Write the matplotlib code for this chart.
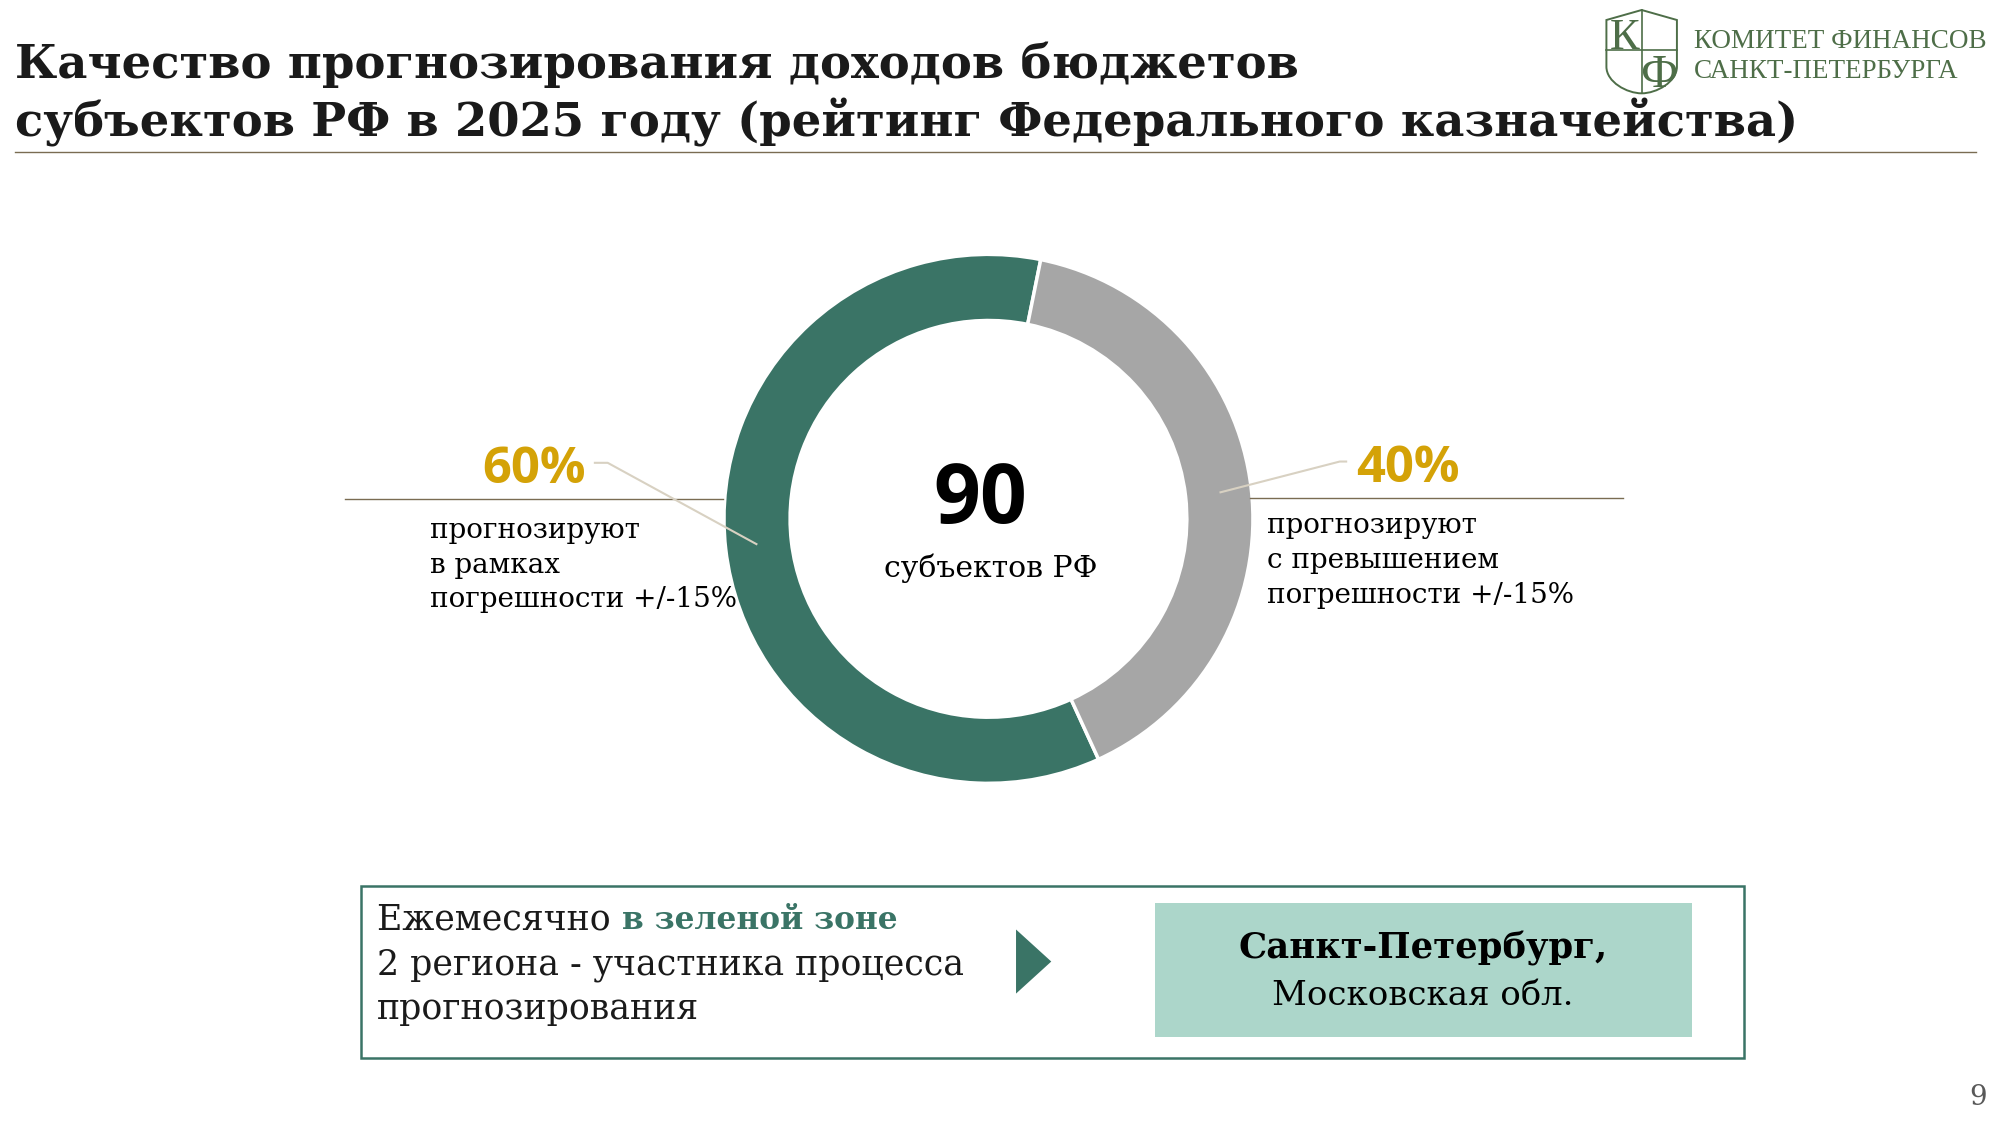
import matplotlib.pyplot as plt
from matplotlib.patches import Rectangle, Polygon, PathPatch
from matplotlib.path import Path

# data
shares = [60, 40]
share_labels = ["60%", "40%"]
share_texts = ["прогнозируют\nв рамках\nпогрешности +/-15%",
               "прогнозируют\nс превышением\nпогрешности +/-15%"]
total_regions = 90
total_label = "субъектов РФ"
title = "Качество прогнозирования доходов бюджетов\nсубъектов РФ в 2025 году (рейтинг Федерального казначейства)"
logo_lines = ["КОМИТЕТ ФИНАНСОВ", "САНКТ-ПЕТЕРБУРГА"]
box_lead = "Ежемесячно "
box_green = "в зеленой зоне"
box_rest = "2 региона - участника процесса\nпрогнозирования"
leaders = ["Санкт-Петербург,", "Московская обл."]
page_no = "9"

GREEN = "#3a7466"
GRAY = "#a6a6a6"
GOLD = "#d4a207"
TEAL = "#acd6ca"
LOGO = "#4e6e48"
SERIF = "DejaVu Serif"
SANS = "Open Sans"

W, H = 1560, 877.5
fig = plt.figure(figsize=(20, 11.25), dpi=100)
fig.patch.set_facecolor("white")

# donut
cx, cy, R = 771, 404.7, 206.3
pax = fig.add_axes([(cx - R) / W, 1 - (cy + R) / H, 2 * R / W, 2 * R / H])
pax.pie(shares, colors=[GREEN, GRAY], startangle=-65.4, counterclock=False,
        radius=1, wedgeprops=dict(width=0.25, edgecolor="white", linewidth=2.5))
pax.set_xlim(-1, 1)
pax.set_ylim(-1, 1)
pax.set_aspect("equal")
pax.axis("off")

# overlay in pixel-like coords
ax = fig.add_axes([0, 0, 1, 1])
ax.set_xlim(0, W)
ax.set_ylim(H, 0)
ax.axis("off")

# title + rule
for i, line in enumerate(title.split("\n")):
    ax.text(12, 61 + i * 45.5, line, fontsize=33.5, fontweight="bold", family=SERIF,
            color="#1a1a1a", va="baseline", ha="left")
ax.plot([12, 1541], [118.5, 118.5], color="#7a6c52", lw=1)

# logo
verts = [(1253, 15.6), (1280.5, 7.8), (1308, 15.6), (1308, 52),
         (1308, 64), (1292, 72.8), (1280.5, 72.8),
         (1269, 72.8), (1253, 64), (1253, 52), (1253, 15.6)]
codes = [Path.MOVETO, Path.LINETO, Path.LINETO, Path.LINETO,
         Path.CURVE4, Path.CURVE4, Path.CURVE4,
         Path.CURVE4, Path.CURVE4, Path.CURVE4, Path.CLOSEPOLY]
ax.add_patch(PathPatch(Path(verts, codes), fill=False, edgecolor=LOGO, lw=1.4))
ax.plot([1280.5, 1280.5], [7.8, 72.8], color=LOGO, lw=1.2)
ax.plot([1253, 1308], [39, 39], color=LOGO, lw=1.2)
ax.text(1267, 38, "К", fontsize=32, family="Liberation Serif", color=LOGO,
        ha="center", va="baseline")
ax.text(1294, 68, "Ф", fontsize=34, family="Liberation Serif", color=LOGO,
        ha="center", va="baseline")
ax.text(1321, 37.6, logo_lines[0], fontsize=19.5, family="Liberation Serif",
        color=LOGO, ha="left", va="baseline")
ax.text(1321, 61, logo_lines[1], fontsize=19.5, family="Liberation Serif",
        color=LOGO, ha="left", va="baseline")

# center label
ax.text(764.5, 408, str(total_regions), fontsize=59, fontweight="bold", family=SANS,
        color="black", ha="center", va="baseline")
ax.text(773, 450, total_label, fontsize=21.5, family=SERIF, color="black",
        ha="center", va="baseline")

# left annotation
ax.plot([269, 564], [389.5, 389.5], color="#7a6c52", lw=1)
ax.plot([464, 474, 590], [361, 361, 424.4], color="#d8d1c2", lw=1.5)
ax.text(416.5, 377, share_labels[0], fontsize=36.5, fontweight="bold", family=SANS,
        color=GOLD, ha="center", va="baseline")
for i, line in enumerate(share_texts[0].split("\n")):
    ax.text(335.5, 420 + i * 26.8, line, fontsize=20, family=SERIF, color="black",
            ha="left", va="baseline")

# right annotation
ax.plot([975, 1266], [388.5, 388.5], color="#7a6c52", lw=1)
ax.plot([952, 1045, 1050], [384, 360, 360], color="#d8d1c2", lw=1.5)
ax.text(1098, 375.7, share_labels[1], fontsize=36.5, fontweight="bold", family=SANS,
        color=GOLD, ha="center", va="baseline")
for i, line in enumerate(share_texts[1].split("\n")):
    ax.text(988, 416 + i * 27.2, line, fontsize=20, family=SERIF, color="black",
            ha="left", va="baseline")

# bottom box
ax.add_patch(Rectangle((281.5, 691), 1360 - 281.5, 825 - 691, fill=False,
                       edgecolor=GREEN, lw=1.8))
ax.add_patch(Rectangle((901, 704.6), 1320 - 901, 809 - 704.6, facecolor=TEAL,
                       edgecolor="none"))
ax.add_patch(Polygon([(792.5, 725), (792.5, 775), (820, 750)], closed=True,
                     facecolor=GREEN, edgecolor="none"))
t1 = ax.text(294, 724.7, box_lead, fontsize=25, family=SERIF, color="#1a1a1a",
             ha="left", va="baseline")
ax.annotate(box_green, xy=(1, 0), xycoords=t1, fontsize=22.5, family=SERIF,
            fontweight="bold", color=GREEN, ha="left", va="bottom")
for i, line in enumerate(box_rest.split("\n")):
    ax.text(294, 760 + i * 34.5, line, fontsize=25, family=SERIF, color="#1a1a1a",
            ha="left", va="baseline")
ax.text(1110, 748, leaders[0], fontsize=25.5, fontweight="bold", family=SERIF,
        color="black", ha="center", va="baseline")
ax.text(1110, 784, leaders[1], fontsize=24.5, family=SERIF, color="black",
        ha="center", va="baseline")

ax.text(1550, 862, page_no, fontsize=20, family=SERIF, color="#595959",
        ha="right", va="baseline")

fig.savefig("out.png", dpi=100)
